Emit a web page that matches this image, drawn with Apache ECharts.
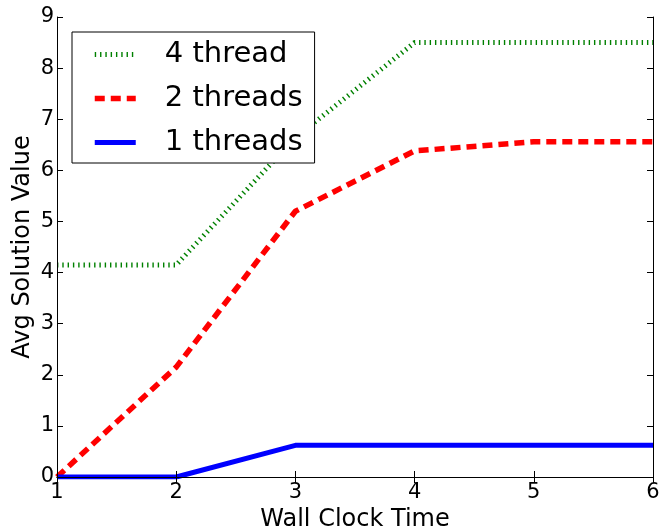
<!DOCTYPE html>
<html>
<head>
<meta charset="utf-8">
<script src="https://cdn.jsdelivr.net/npm/echarts@6/dist/echarts.min.js"></script>
<style>
  html, body { margin: 0; padding: 0; background: #fff; }
  #chart { width: 663px; height: 530px; }
</style>
</head>
<body>
<div id="chart"></div>
<script>
// Wall clock time steps on the x axis
const wallClock = [1, 2, 3, 4, 5, 6];
// Average solution value per thread count
const fourThread = [4.15, 4.15, 6.64, 8.5, 8.5, 8.5];
const twoThreads = [0, 2.15, 5.2, 6.38, 6.56, 6.56];
const oneThreads = [0, 0, 0.62, 0.62, 0.62, 0.62];

const xTicks = [1, 2, 3, 4, 5, 6];
const yTicks = [0, 1, 2, 3, 4, 5, 6, 7, 8, 9];

const FONT = 'DejaVu Sans';

function pairs(ys) {
  return wallClock.map((x, i) => [x, ys[i]]);
}

const frameLine = { show: true, lineStyle: { color: '#000', width: 1 } };
const frameTick = { show: true, inside: true, length: 6, lineStyle: { color: '#000', width: 1 } };

const chart = echarts.init(document.getElementById('chart'), null, { renderer: 'canvas' });
chart.setOption({
  animation: false,
  backgroundColor: '#fff',
  grid: { left: 57, right: 10, top: 17, bottom: 53, containLabel: false, outerBoundsMode: 'none' },
  xAxis: [
    {
      type: 'value',
      min: xTicks[0], max: xTicks[xTicks.length - 1], interval: 1,
      name: 'Wall Clock Time', nameLocation: 'middle', nameGap: 31,
      nameTextStyle: { fontFamily: FONT, fontSize: 24, color: '#000' },
      axisLine: frameLine, axisTick: frameTick,
      axisLabel: { fontFamily: FONT, fontSize: 21, color: '#000', margin: 5 },
      splitLine: { show: false }, z: 10
    },
    {
      type: 'value', position: 'top',
      min: xTicks[0], max: xTicks[xTicks.length - 1], interval: 1,
      axisLine: frameLine, axisTick: frameTick,
      axisLabel: { show: false }, splitLine: { show: false }, z: 10
    }
  ],
  yAxis: [
    {
      type: 'value',
      min: yTicks[0], max: yTicks[yTicks.length - 1], interval: 1,
      name: 'Avg Solution Value', nameLocation: 'middle', nameGap: 22,
      nameMoveOverlap: false,
      nameTextStyle: { fontFamily: FONT, fontSize: 24, color: '#000' },
      axisLine: frameLine, axisTick: frameTick,
      axisLabel: { fontFamily: FONT, fontSize: 21, color: '#000', margin: 3 },
      splitLine: { show: false }, z: 10
    },
    {
      type: 'value', position: 'right',
      min: yTicks[0], max: yTicks[yTicks.length - 1], interval: 1,
      axisLine: frameLine, axisTick: frameTick,
      axisLabel: { show: false }, splitLine: { show: false }, z: 10
    }
  ],
  legend: {
    orient: 'vertical',
    left: 72, top: 32,
    padding: [8, 12, 6, 20],
    itemWidth: 41, itemHeight: 14, itemGap: 15,
    backgroundColor: '#fff',
    borderColor: '#000', borderWidth: 1, borderRadius: 0,
    itemStyle: { opacity: 0 },
    lineStyle: { width: 'inherit', type: 'inherit', color: 'inherit' },
    textStyle: { fontFamily: FONT, fontSize: 29, color: '#000', padding: [0, 0, 0, 24] },
    data: ['4 thread', '2 threads', '1 threads'],
    z: 20
  },
  series: [
    {
      name: '4 thread', type: 'line', data: pairs(fourThread),
      symbol: 'none', showSymbol: false,
      itemStyle: { color: '#008000' },
      lineStyle: { color: '#008000', width: 5, type: [1.4, 3.9] }
    },
    {
      name: '2 threads', type: 'line', data: pairs(twoThreads),
      symbol: 'none', showSymbol: false,
      itemStyle: { color: '#ff0000' },
      lineStyle: { color: '#ff0000', width: 5.5, type: [10, 6] }
    },
    {
      name: '1 threads', type: 'line', data: pairs(oneThreads),
      symbol: 'none', showSymbol: false,
      itemStyle: { color: '#0000ff' },
      lineStyle: { color: '#0000ff', width: 5, type: 'solid' }
    }
  ]
});
</script>
</body>
</html>
